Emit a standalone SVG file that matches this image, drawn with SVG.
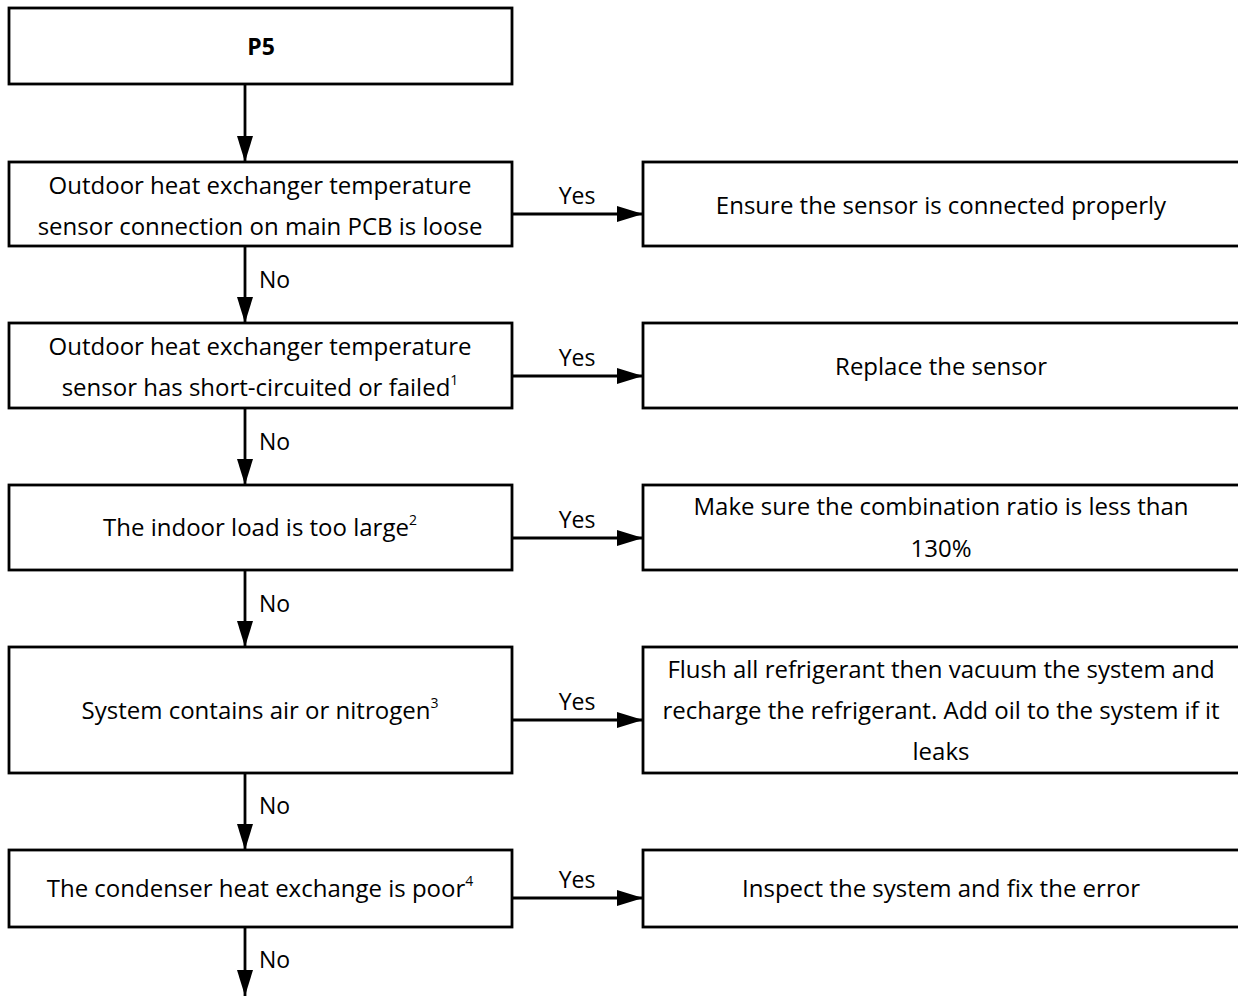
<svg xmlns="http://www.w3.org/2000/svg" width="1238" height="996" viewBox="0 0 1238 996">
<style>
.box{fill:#fff;stroke:#000;stroke-width:2.8}
.t{font-family:"Open Sans","Liberation Sans",sans-serif;font-size:24px;fill:#000;text-anchor:middle}
.b{font-weight:bold;font-size:23px}
.y{font-size:23px}
.lbl{font-family:"Open Sans","Liberation Sans",sans-serif;font-size:23px;fill:#000}
.sup{font-size:14px}
.c{stroke:#000;stroke-width:2.8;fill:none;marker-end:url(#ah)}
</style>
<defs>
<marker id="ah" markerUnits="userSpaceOnUse" markerWidth="28" markerHeight="18" refX="26" refY="8" orient="auto">
<path d="M0,0 L26,8 L0,16 z" fill="#000"/>
</marker>
</defs>
<rect width="1238" height="996" fill="#fff"/>
<g id="connectors">
<line class="c" x1="245" y1="85" x2="245" y2="162"/>
<line class="c" x1="245" y1="246" x2="245" y2="323"/>
<line class="c" x1="245" y1="408" x2="245" y2="485"/>
<line class="c" x1="245" y1="570" x2="245" y2="647"/>
<line class="c" x1="245" y1="773" x2="245" y2="850"/>
<line class="c" x1="245" y1="927" x2="245" y2="996"/>
<line class="c" x1="512" y1="214" x2="643" y2="214"/>
<line class="c" x1="512" y1="376" x2="643" y2="376"/>
<line class="c" x1="512" y1="538" x2="643" y2="538"/>
<line class="c" x1="512" y1="720" x2="643" y2="720"/>
<line class="c" x1="512" y1="898" x2="643" y2="898"/>
<text class="lbl" x="259" y="288">No</text>
<text class="lbl" x="259" y="450">No</text>
<text class="lbl" x="259" y="612">No</text>
<text class="lbl" x="259" y="814">No</text>
<text class="lbl" x="259" y="968">No</text>
<text class="t y" x="577" y="204">Yes</text>
<text class="t y" x="577" y="366">Yes</text>
<text class="t y" x="577" y="528">Yes</text>
<text class="t y" x="577" y="710">Yes</text>
<text class="t y" x="577" y="888">Yes</text>
</g>
<g id="start">
<rect class="box" x="9" y="8" width="503" height="76"/>
<text class="t b" x="261" y="55">P5</text>
</g>
<g id="q1">
<rect class="box" x="9" y="162" width="503" height="84"/>
<text class="t" x="260" y="194">Outdoor heat exchanger temperature</text>
<text class="t" x="260" y="235">sensor connection on main PCB is loose</text>
</g>
<g id="q2">
<rect class="box" x="9" y="323" width="503" height="85"/>
<text class="t" x="260" y="355">Outdoor heat exchanger temperature</text>
<text class="t" x="260" y="396">sensor has short-circuited or failed<tspan class="sup" dy="-11">1</tspan></text>
</g>
<g id="q3">
<rect class="box" x="9" y="485" width="503" height="85"/>
<text class="t" x="260" y="536">The indoor load is too large<tspan class="sup" dy="-11">2</tspan></text>
</g>
<g id="q4">
<rect class="box" x="9" y="647" width="503" height="126"/>
<text class="t" x="260" y="719">System contains air or nitrogen<tspan class="sup" dy="-11">3</tspan></text>
</g>
<g id="q5">
<rect class="box" x="9" y="850" width="503" height="77"/>
<text class="t" x="260" y="897">The condenser heat exchange is poor<tspan class="sup" dy="-11">4</tspan></text>
</g>
<g id="a1">
<rect class="box" x="643" y="162" width="600" height="84"/>
<text class="t" x="941" y="214">Ensure the sensor is connected properly</text>
</g>
<g id="a2">
<rect class="box" x="643" y="323" width="600" height="85"/>
<text class="t" x="941" y="375">Replace the sensor</text>
</g>
<g id="a3">
<rect class="box" x="643" y="485" width="600" height="85"/>
<text class="t" x="941" y="515">Make sure the combination ratio is less than</text>
<text class="t" x="941" y="557">130%</text>
</g>
<g id="a4">
<rect class="box" x="643" y="647" width="600" height="126"/>
<text class="t" x="941" y="678">Flush all refrigerant then vacuum the system and</text>
<text class="t" x="941" y="719">recharge the refrigerant. Add oil to the system if it</text>
<text class="t" x="941" y="760">leaks</text>
</g>
<g id="a5">
<rect class="box" x="643" y="850" width="600" height="77"/>
<text class="t" x="941" y="897">Inspect the system and fix the error</text>
</g>
</svg>
